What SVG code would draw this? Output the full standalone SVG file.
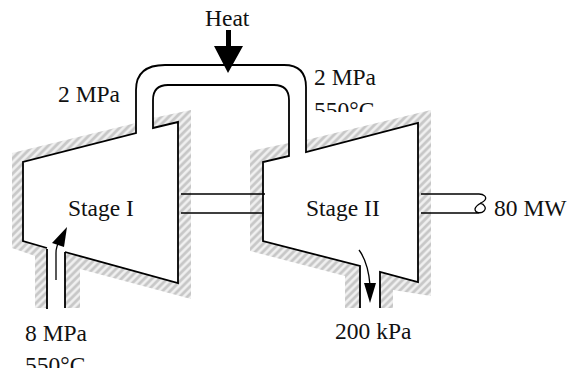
<svg xmlns="http://www.w3.org/2000/svg" width="568" height="368" viewBox="0 0 568 368">
<style>
.l{fill:none;stroke:#000;stroke-width:1.8}
.s{fill:none;stroke:#000;stroke-width:1.3}
.h{fill:url(#hatch)}
text{font-family:"Liberation Serif","Times New Roman",serif;font-size:23.5px;fill:#111}
</style>
<defs>
<pattern id="hatch" width="5.4" height="5.4" patternUnits="userSpaceOnUse" patternTransform="rotate(-45)">
<rect width="5.4" height="5.4" fill="#f2f2f2"/>
<rect y="0.4" width="5.4" height="3.4" fill="#dcdcdc"/>
<rect y="1" width="5.4" height="2.2" fill="#c6c6c6"/>
</pattern>
<clipPath id="c1"><rect x="300" y="96" width="100" height="16"/></clipPath>
</defs>
<rect width="568" height="368" fill="#fff"/>
<g id="stage1">
<path class="h" d="M12 153L136 123V133L23 162V241L47 248V308H35V256L12 248ZM65 252L178 283V122L153 128V118L191 110V299L80 269V308H65Z"/>
<text x="68" y="216">Stage I</text>
</g>
<g id="stage2">
<path class="h" d="M250 151L289 143V156L263 162V241L360 266V308H345V276L250 251ZM306 152V140L431 110V296L393 290V308H380V272L418 282V123Z"/>
<text x="306" y="216">Stage II</text>
</g>
<g id="connectors">
<path class="l" d="M47 249V309M65 252V308M47 248L23 241V162L136 133V90Q136 65 165 65H284Q306 65 306 87V152L418 123V282L380 272V308M360 308V266L263 241V162L289 156V100Q289 85 274 85H168Q153 85 153 100V128L178 122V283L65 252"/>
<path class="s" d="M181 194H265M181 213H264M421 194H479C484 194 487 197 485 200C483 203 476 204 475 209C475 213 481 214 484 211C487 208 484 204 480 203M421 213H479"/>
<path d="M226 30H231V46H243L228 73L214 46H226Z" fill="#000"/>
<path class="s" d="M56 280V253Q56 246 60 240"/>
<path d="M67 227L64 247L52 243Z" fill="#000"/>
<path class="s" d="M359 250Q368 262 370 285"/>
<path d="M364 283H376L370 303Z" fill="#000"/>
</g>
<g id="labels">
<text x="205" y="26">Heat</text>
<text x="58" y="102">2 MPa</text>
<text x="314" y="85">2 MPa</text>
<text x="314" y="118" clip-path="url(#c1)">550°C</text>
<text x="494" y="216">80 MW</text>
<text x="25" y="341">8 MPa</text>
<text x="25" y="373">550°C</text>
<text x="335" y="339">200 kPa</text>
</g>
</svg>
